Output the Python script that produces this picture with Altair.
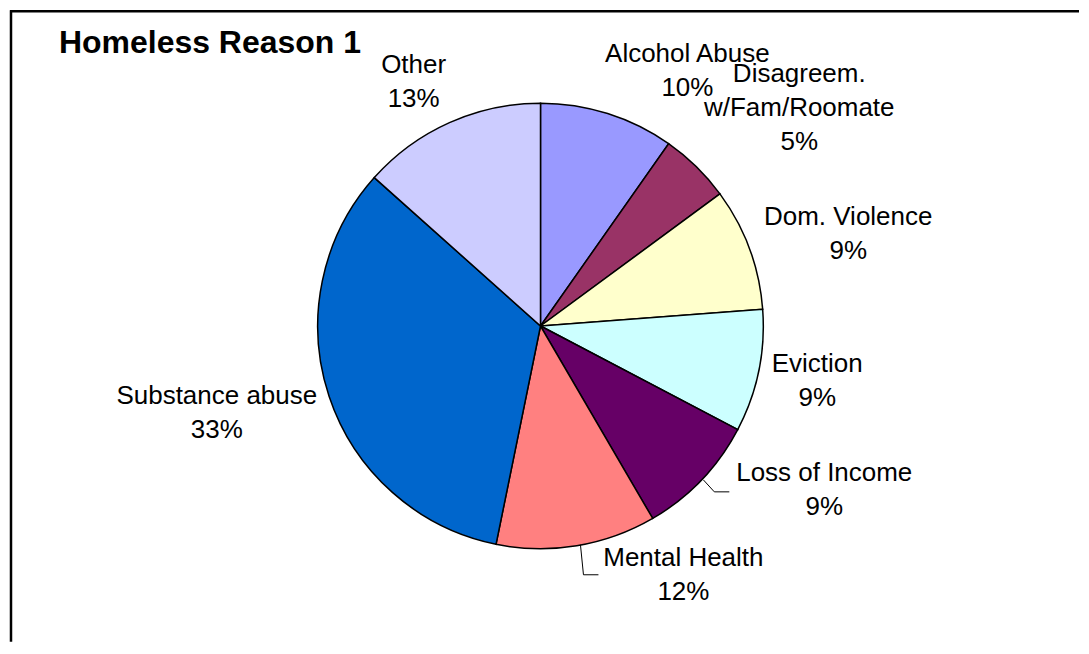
import altair as alt
import pandas as pd

# ---- data ----
categories = ["Alcohol Abuse", "Disagreem.\nw/Fam/Roomate", "Dom. Violence", "Eviction",
              "Loss of Income", "Mental Health", "Substance abuse", "Other"]
share = [9.75, 5.15, 8.9, 8.9, 8.9, 11.6, 33.4, 13.4]  # percent of total (slice sizes)
colors = ["#9999FF", "#993366", "#FFFFCC", "#CCFFFF", "#660066", "#FF8080", "#0066CC", "#CCCCFF"]
title_text = "Homeless Reason 1"

# ---- layout (pixel positions inside the chart) ----
W, H = 1070, 632
OFF = 8  # page margin
CX, CY, R = 539 - OFF, 324 - OFF, 223
label_pos = [(686, 60), (798, 80), (847, 223), (816, 370),
             (823, 479), (682, 564), (215, 402), (412, 71)]
leaders = [((702, 478), (713, 490)), ((713, 490), (728, 490)),
           ((579, 543), (582, 573)), ((582, 573), (597, 573))]

FONT = "Liberation Sans"

pie_df = pd.DataFrame({"cat": categories, "value": share, "idx": list(range(len(categories)))})

pie = alt.Chart(pie_df).mark_arc(radius=R, stroke="black", strokeWidth=1.5).encode(
    theta=alt.Theta("value:Q", stack=True),
    order=alt.Order("idx:Q"),
    color=alt.Color("cat:N", scale=alt.Scale(domain=categories, range=colors), legend=None),
    x=alt.value(CX),
    y=alt.value(CY),
)

lab_df = pd.DataFrame({
    "label": [f"{c}\n{round(v)}%" for c, v in zip(categories, share)],
    "px": [p[0] - OFF for p in label_pos],
    "py": [p[1] - OFF for p in label_pos],
})
labels = alt.Chart(lab_df).mark_text(
    font=FONT, fontSize=26, lineBreak="\n", lineHeight=34, align="center",
    baseline="alphabetic", color="black"
).encode(
    x=alt.X("px:Q", scale=None),
    y=alt.Y("py:Q", scale=None),
    text="label:N",
)

seg_df = pd.DataFrame({
    "x1": [a[0] - OFF for a, b in leaders], "y1": [a[1] - OFF for a, b in leaders],
    "x2": [b[0] - OFF for a, b in leaders], "y2": [b[1] - OFF for a, b in leaders],
})
lines = alt.Chart(seg_df).mark_rule(color="black", strokeWidth=1).encode(
    x=alt.X("x1:Q", scale=None), y=alt.Y("y1:Q", scale=None),
    x2="x2:Q", y2="y2:Q",
)

title = alt.Chart(pd.DataFrame({"t": [title_text]})).mark_text(
    font=FONT, fontSize=32, fontWeight="bold", align="left", baseline="alphabetic", color="black"
).encode(x=alt.value(57 - OFF), y=alt.value(51 - OFF), text="t:N")

border_top = alt.Chart(pd.DataFrame({"a": [0]})).mark_rule(color="black", strokeWidth=2.5).encode(
    x=alt.value(0), x2=alt.value(W), y=alt.value(1))
border_left = alt.Chart(pd.DataFrame({"a": [0]})).mark_rule(color="black", strokeWidth=2.5).encode(
    x=alt.value(1), y=alt.value(0), y2=alt.value(H))

chart = alt.layer(pie, lines, labels, title, border_top, border_left).properties(
    width=W, height=H, padding=0, background="white"
).configure_view(stroke=None)

chart.save("out.html", embed_options={"renderer": "svg", "actions": False})
